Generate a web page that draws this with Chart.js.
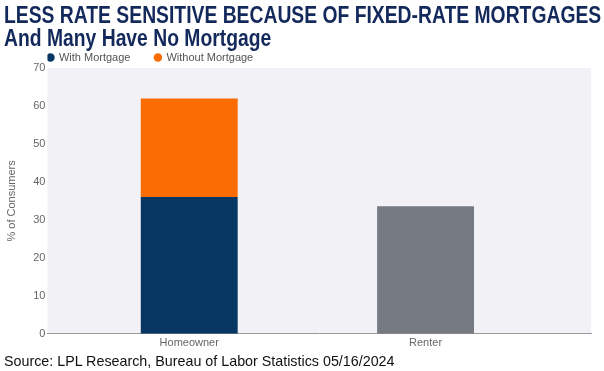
<!DOCTYPE html>
<html>
<head>
<meta charset="utf-8">
<script src="https://cdn.jsdelivr.net/npm/chart.js@4/dist/chart.umd.min.js"></script>
<style>
  body { margin: 0; background: #fff; }
  #wrap { position: relative; width: 604px; height: 371px; overflow: hidden; }
  #graph { position: absolute; left: 0; top: 0; }
  .head {
    position: absolute; left: 4px; white-space: nowrap;
    font-family: "Liberation Sans", Arial, sans-serif; font-weight: bold;
    font-size: 23px; color: #13295b; transform-origin: 0 0; transform: scaleX(0.84);
  }
  #source {
    position: absolute; left: 4px; top: 353px; white-space: nowrap;
    font-family: "Liberation Sans", Arial, sans-serif; font-size: 14.3px; color: #111;
  }
</style>
</head>
<body>
<div id="wrap">
  <canvas id="graph" width="604" height="371"></canvas>
  <div class="head" style="top:2px">LESS RATE SENSITIVE BECAUSE OF FIXED-RATE MORTGAGES</div>
  <div class="head" style="top:25px">And Many Have No Mortgage</div>
  <div id="source">Source: LPL Research, Bureau of Labor Statistics 05/16/2024</div>
</div>
<script>
const categories = ["Homeowner", "Renter"];
const withMortgage = [36, null];
const withoutMortgage = [26, null];
const renter = [null, 33.6];
const yTicks = [0, 10, 20, 30, 40, 50, 60, 70];

const toPoints = arr => arr.map((v, i) => ({x: i, y: v})).filter(p => p.y !== null);

// plot background
const panel = {
    id: 'panel',
    beforeDraw(chart) {
        const {ctx, chartArea: a} = chart;
        ctx.save();
        ctx.fillStyle = '#f2f1f6';
        ctx.fillRect(a.left, a.top, a.right - a.left, a.bottom - a.top);
        ctx.restore();
    }
};

const graph = document.getElementById('graph');
let bargraph = new Chart(graph, {
    type: 'bar',
    data: {
        datasets: [{
            label: "With Mortgage",
            data: toPoints(withMortgage),
            backgroundColor: "#063661",
            stack: 's'
        }, {
            label: "Without Mortgage",
            data: toPoints(withoutMortgage),
            backgroundColor: "#fb6d03",
            stack: 's'
        }, {
            label: "Renter",
            data: toPoints(renter),
            backgroundColor: "#767a82",
            stack: 's'
        }]
    },
    options: {
        responsive: false,
        animation: false,
        layout: { padding: { top: 52, left: 5, right: 13, bottom: 18 } },
        barPercentage: 0.41,
        categoryPercentage: 1,
        scales: {
            x: {
                type: 'linear',
                stacked: true,
                offset: false,
                min: -0.6,
                max: 1.7,
                afterBuildTicks: s => { s.ticks = categories.map((c, i) => ({value: i})); },
                grid: { display: false, drawTicks: false },
                border: { display: true, color: '#9a9a9a', width: 1 },
                ticks: {
                    callback: v => categories[v] || '',
                    font: { family: 'Liberation Sans', size: 11 },
                    color: '#666',
                    padding: 3
                }
            },
            y: {
                stacked: true,
                min: 0,
                max: 70,
                afterBuildTicks: s => { s.ticks = yTicks.map(v => ({value: v})); },
                grid: { display: false, drawTicks: false },
                border: { display: false },
                ticks: {
                    font: { family: 'Liberation Sans', size: 11 },
                    color: '#666',
                    padding: 2
                },
                title: {
                    display: true,
                    text: '% of Consumers',
                    font: { family: 'Liberation Sans', size: 11 },
                    color: '#666',
                    padding: { top: 0, bottom: 13 }
                }
            }
        },
        plugins: {
            legend: {
                position: 'top',
                align: 'start',
                fullSize: false,
                maxHeight: 16,
                labels: {
                    usePointStyle: true,
                    pointStyle: 'circle',
                    boxWidth: 6,
                    boxHeight: 6,
                    padding: 0,
                    font: { family: 'Liberation Sans', size: 11 },
                    color: '#555',
                    filter: item => item.text !== 'Renter',
                    generateLabels: chart => Chart.defaults.plugins.legend.labels.generateLabels(chart)
                        .map(l => (l.text === 'With Mortgage' ? Object.assign(l, {text: l.text + '        '}) : l))
                }
            },
            tooltip: { enabled: false }
        }
    },
    plugins: [panel]
});
</script>
</body>
</html>
